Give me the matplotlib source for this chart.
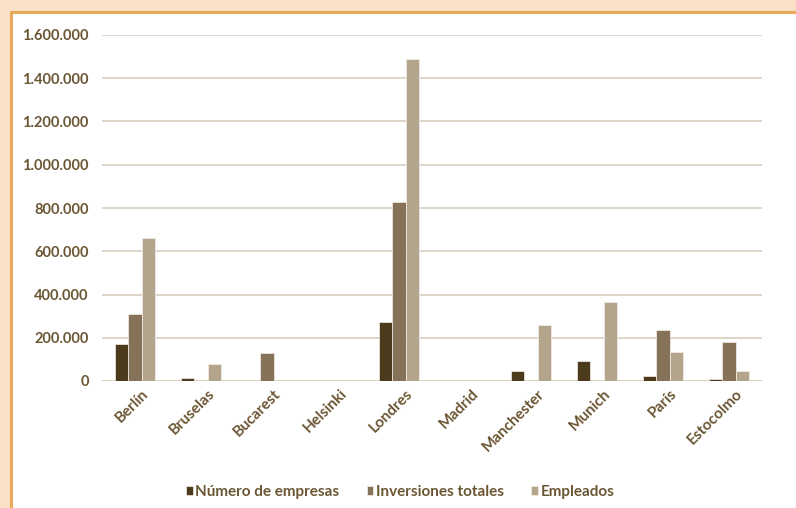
import numpy as np
import matplotlib.pyplot as plt
from matplotlib.patches import Rectangle
from matplotlib.ticker import FuncFormatter

# cities and the three series
ciudades = ['Berlín', 'Bruselas', 'Bucarest', 'Helsinki', 'Londres',
            'Madrid', 'Manchester', 'Munich', 'París', 'Estocolmo']
num_empresas = [170000, 12000, 0, 0, 274000, 0, 48000, 92000, 22000, 8000]
inversiones = [310000, 0, 128000, 0, 828000, 0, 0, 0, 234000, 179000]
empleados = [663000, 80000, 0, 0, 1489000, 0, 260000, 367000, 134000, 48000]

series = ['Número de empresas', 'Inversiones totales', 'Empleados']
colores = ['#4b3a1c', '#857259', '#b3a58c']
yticks = [0, 200000, 400000, 600000, 800000, 1000000, 1200000, 1400000, 1600000]

texto = '#6b5634'
plt.rcParams['font.family'] = ['Lato', 'DejaVu Sans']

fig = plt.figure(figsize=(7.96, 5.08), dpi=100)
fig.patch.set_facecolor('#f8e1c5')

# white panel with the orange frame on the left and top
fig.patches.append(Rectangle((11 / 796, -0.1), 1.2, (508 - 12) / 508 + 0.1,
                             transform=fig.transFigure, facecolor='white',
                             edgecolor='#eaa95a', linewidth=2.2, zorder=-5))

ax = fig.add_axes([102 / 796, 1 - 381 / 508, 660 / 796, (381 - 35) / 508])
ax.set_facecolor('none')

x = np.arange(len(ciudades))
w = 0.207
for i, (vals, c, lab) in enumerate(zip([num_empresas, inversiones, empleados], colores, series)):
    ax.bar(x + (i - 1) * w, vals, w, color=c, label=lab,
           edgecolor='#f4efe8', linewidth=0.5, zorder=3)

ax.set_xlim(-0.5, len(ciudades) - 0.5)
ax.set_ylim(0, 1600000)
ax.set_yticks(yticks)
ax.yaxis.set_major_formatter(FuncFormatter(lambda v, p: f'{int(v):,}'.replace(',', '.')))
ax.grid(axis='y', color='#d9cdbe', linewidth=1.2, zorder=0)
for s in ax.spines.values():
    s.set_visible(False)
ax.axhline(0, color='#d9cdbe', linewidth=1.2, zorder=2)

ax.tick_params(axis='y', length=0, colors=texto, labelsize=10.5, pad=9.5)
ax.tick_params(axis='x', length=0, colors=texto, labelsize=11, pad=4)
ax.set_xticks(x + 0.1)
ax.set_xticklabels(ciudades, rotation=45, ha='right', va='top',
                   rotation_mode='anchor', fontweight='bold')
for t in ax.get_yticklabels():
    t.set_fontweight('bold')

leg = fig.legend(loc='center', bbox_to_anchor=(400 / 796, 1 - 492 / 508), ncol=3,
                 frameon=False, handlelength=0.45, handleheight=0.45,
                 handletextpad=0.15, columnspacing=1.8,
                 prop={'size': 11, 'weight': 'bold'})
for t in leg.get_texts():
    t.set_color(texto)

fig.savefig('out.png', dpi=100, facecolor=fig.get_facecolor())
